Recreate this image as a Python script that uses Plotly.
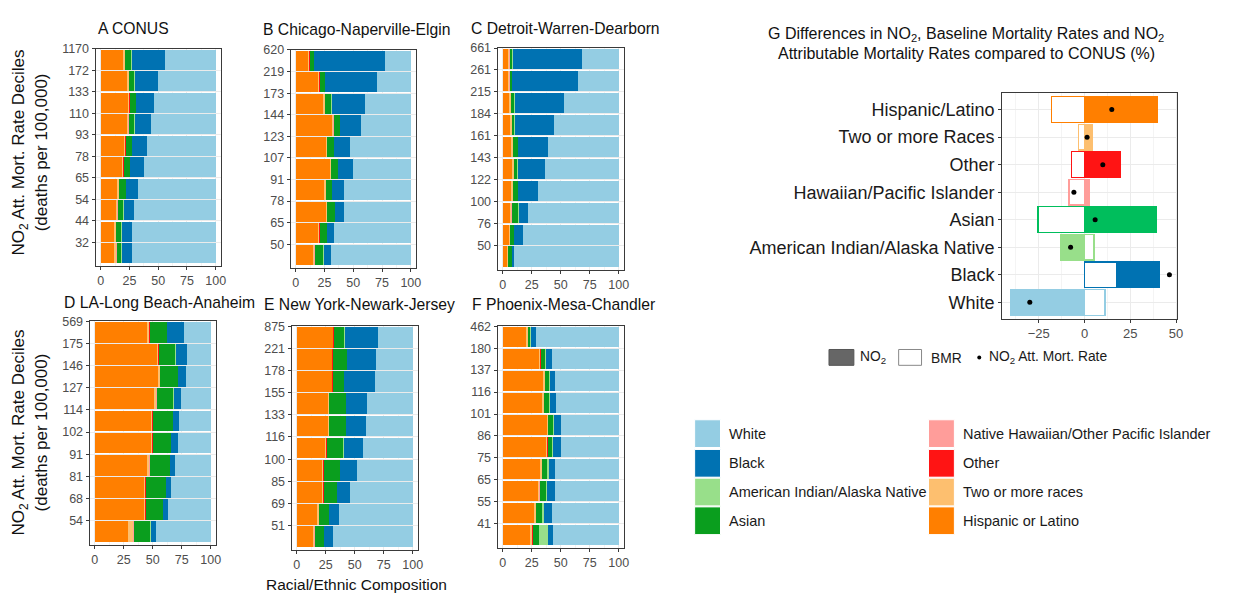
import plotly.graph_objects as go

W, H = 1246, 593

# ---------------- data (decile 1 -> decile 10) ----------------
group_names = ["Hispanic or Latino", "Two or more races", "Other",
               "Native Hawaiian/Other Pacific Islander", "Asian",
               "American Indian/Alaska Native", "Black", "White"]
group_colors = ["#FF7F00", "#FDBF6F", "#FF1414", "#FF9D9A", "#0A9E1E",
                "#98DF8A", "#0072B2", "#94CDE3"]

# A CONUS
A_ticks = ["32", "44", "54", "65", "78", "93", "110", "133", "172", "1170"]
A_hisp = [12, 12, 13, 14.5, 18.5, 20, 22.5, 23.5, 23, 19.5]
A_two = [1.5, 1.3, 1.3, 1.3, 1.3, 1.3, 1.3, 1.3, 1.3, 1.5]
A_other = [0.2, 0.2, 0.3, 0.3, 0.3, 0.3, 0.3, 0.3, 0.3, 0.3]
A_nhpi = [0.2, 0.2, 0.2, 0.2, 0.2, 0.2, 0.2, 0.2, 0.2, 0.2]
A_asian = [3.5, 4.3, 5, 5.5, 5, 5.5, 5, 5, 4.5, 5]
A_aian = [1.0, 0.5, 0.4, 0.4, 0.3, 0.3, 0.3, 0.4, 0.3, 0.3]
A_black = [8.5, 8.5, 8.8, 10, 11.7, 13, 14.5, 15.5, 20.5, 29]
A_white = [73.1, 73.0, 71.0, 67.8, 62.7, 59.4, 55.9, 53.8, 49.9, 44.2]

# B Chicago
B_ticks = ["50", "65", "78", "91", "107", "123", "144", "173", "219", "620"]
B_hisp = [15, 19.5, 26, 25, 29.5, 26, 31.5, 24, 19.5, 11]
B_two = [1, 1.2, 1, 1, 1, 1, 1, 1.2, 1, 1]
B_other = [0.2, 0.2, 0.2, 0.2, 0.2, 0.2, 0.2, 0.3, 0.3, 0.3]
B_nhpi = [0.1, 0.1, 0.1, 0.1, 0.1, 0.1, 0.1, 0.1, 0.1, 0.1]
B_asian = [7.7, 6.3, 7, 5.3, 5.7, 6, 5.8, 5.5, 4.5, 3.5]
B_aian = [0.3, 0.2, 0.2, 0.2, 0.2, 0.2, 0.2, 0.2, 0.2, 0.2]
B_black = [6.4, 5.8, 7.5, 10, 13, 13.7, 17.7, 28.5, 44.6, 61.5]
B_white = [69.3, 66.7, 58.0, 58.2, 50.3, 52.8, 43.5, 40.2, 29.8, 22.4]

# C Detroit
C_ticks = ["50", "76", "100", "122", "143", "161", "184", "215", "261", "661"]
C_hisp = [3.6, 5, 6, 7.3, 8, 7.5, 6.3, 5.4, 4.3, 4.3]
C_two = [1, 1, 1.2, 1.2, 1.3, 1.3, 1.3, 1.4, 1.2, 1.2]
C_other = [0.2, 0.2, 0.2, 0.2, 0.2, 0.2, 0.2, 0.2, 0.2, 0.2]
C_nhpi = [0.1, 0.1, 0.1, 0.1, 0.1, 0.1, 0.1, 0.1, 0.1, 0.1]
C_asian = [3.2, 3.4, 6, 4.5, 3, 4, 2, 2.8, 2, 2.4]
C_aian = [0.2, 0.2, 0.2, 0.2, 0.2, 0.2, 0.2, 0.2, 0.2, 0.2]
C_black = [1.2, 7.3, 7.8, 16.5, 24, 25.3, 34.3, 42.4, 56.7, 60]
C_white = [90.5, 82.8, 78.5, 70.0, 63.2, 61.4, 55.6, 47.5, 35.3, 31.6]

# D LA
D_ticks = ["54", "68", "81", "91", "102", "114", "127", "146", "175", "569"]
D_hisp = [29, 42.4, 42.4, 45.5, 48.8, 48.8, 51.5, 55, 54, 45.5]
D_two = [4, 1.3, 1.3, 1.3, 1, 1, 1, 1, 1, 1.5]
D_other = [0.2, 0.2, 0.3, 0.2, 0.2, 0.3, 0.5, 0.2, 0.3, 0.3]
D_nhpi = [0.3, 0.3, 0.3, 0.3, 0.3, 0.3, 0.3, 0.3, 0.3, 0.3]
D_asian = [14.5, 14.4, 16.8, 17.4, 15.3, 16.8, 14.4, 15, 14, 14.5]
D_aian = [0.2, 0.2, 0.2, 0.2, 0.2, 0.2, 0.2, 0.2, 0.2, 0.2]
D_black = [4.6, 4.1, 4.6, 4.4, 5.8, 4.9, 6.4, 7, 10, 15]
D_white = [47.2, 37.1, 34.1, 30.7, 28.4, 27.7, 25.7, 21.3, 20.2, 22.7]

# E New York
E_ticks = ["51", "69", "85", "100", "116", "133", "155", "178", "221", "875"]
E_hisp = [13.7, 17.8, 22.2, 22.2, 24.8, 27, 27, 30, 30, 30.9]
E_two = [1.2, 1, 0.5, 0.5, 0.5, 0.6, 0.6, 0.6, 0.6, 0.8]
E_other = [0.3, 0.3, 0.8, 0.8, 0.8, 0.4, 0.3, 0.8, 0.8, 0.3]
E_nhpi = [0.1, 0.1, 0.1, 0.1, 0.1, 0.1, 0.1, 0.1, 0.1, 0.1]
E_asian = [8.1, 8.3, 11.2, 13.8, 14.1, 14.3, 14.4, 9.1, 12, 9]
E_aian = [0.2, 0.2, 0.2, 0.2, 0.2, 0.2, 0.2, 0.2, 0.2, 0.2]
E_black = [7.3, 8.8, 11.1, 14.6, 16.4, 17.2, 17.7, 26.3, 24.5, 28.6]
E_white = [69.1, 63.5, 53.9, 47.8, 43.1, 40.2, 39.7, 32.9, 31.8, 30.1]

# F Phoenix
F_ticks = ["41", "55", "65", "75", "86", "101", "116", "137", "180", "462"]
F_hisp = [23.8, 27.3, 30.2, 32.5, 37.2, 37.8, 34, 34.8, 31, 20.3]
F_two = [1.8, 1, 1.3, 1.4, 1.3, 1.3, 1.5, 1.3, 1.5, 1.2]
F_other = [0.2, 0.2, 0.2, 0.2, 0.2, 0.2, 0.2, 0.2, 0.2, 0.2]
F_nhpi = [0.1, 0.1, 0.1, 0.1, 0.1, 0.1, 0.1, 0.1, 0.1, 0.1]
F_asian = [4.9, 5.7, 5.1, 4.4, 3.7, 3.6, 3.9, 3.7, 3.6, 1.8]
F_aian = [8.5, 1.5, 0.9, 1.2, 0.8, 0.9, 1.1, 1, 0.9, 0.3]
F_black = [4.3, 6.4, 7.3, 5.3, 7, 6.7, 5.5, 4.3, 5.5, 4.4]
F_white = [56.4, 57.8, 54.9, 54.9, 49.7, 49.4, 53.7, 54.6, 57.2, 71.7]

decile_pos = [1, 2, 3, 4, 5, 6, 7, 8, 9, 10]

# G differences (bottom -> top)
G_labels = ["White", "Black", "American Indian/Alaska Native", "Asian",
            "Hawaiian/Pacific Islander", "Other", "Two or more Races", "Hispanic/Latino"]
G_colors = ["#94CDE3", "#0072B2", "#98DF8A", "#00BE5C",
            "#FF9D9A", "#FF1414", "#FDBF6F", "#FF7F00"]
G_no2 = [-40.6, 41.1, -13.2, 39.3, 2.7, 19.6, 4.5, 39.9]
G_bmr = [11.2, 17.8, 5.1, -25.4, -8.5, -7.2, -3.3, -18.1]
G_att = [-29.9, 46.4, -7.6, 5.8, -5.8, 10.0, 1.4, 14.9]

# ---------------- layout helpers ----------------
def xd(px):
    return px / W

def yd(py):
    return 1 - py / H

panels = [
    ("", "A CONUS", 96, 23, (96, 222, 43, 263), A_ticks,
     [A_hisp, A_two, A_other, A_nhpi, A_asian, A_aian, A_black, A_white]),
    ("2", "B Chicago-Naperville-Elgin", 262, 24, (292, 418, 44, 265), B_ticks,
     [B_hisp, B_two, B_other, B_nhpi, B_asian, B_aian, B_black, B_white]),
    ("3", "C Detroit-Warren-Dearborn", 471, 23, (500, 627, 42, 267), C_ticks,
     [C_hisp, C_two, C_other, C_nhpi, C_asian, C_aian, C_black, C_white]),
    ("4", "D LA-Long Beach-Anaheim", 62, 300, (90, 217, 318, 545), D_ticks,
     [D_hisp, D_two, D_other, D_nhpi, D_asian, D_aian, D_black, D_white]),
    ("5", "E New York-Newark-Jersey", 263, 302, (293, 420, 323, 550), E_ticks,
     [E_hisp, E_two, E_other, E_nhpi, E_asian, E_aian, E_black, E_white]),
    ("6", "F Phoenix-Mesa-Chandler", 472, 302, (500, 627, 323, 548), F_ticks,
     [F_hisp, F_two, F_other, F_nhpi, F_asian, F_aian, F_black, F_white]),
]

fig = go.Figure()
layout = dict(
    width=W, height=H, margin=dict(l=0, r=0, t=0, b=0),
    paper_bgcolor="white", plot_bgcolor="white",
    barmode="stack", showlegend=False,
    font=dict(family="Liberation Sans, Arial, sans-serif", color="#1a1a1a"),
)
annotations = []
shapes = []
GRID = "#EBEBEB"
FRAME = "#3a3a3a"

for suffix, title, tx, ty, box, ticks, series in panels:
    x0, x1, y0, y1 = box
    xa = "x" + suffix
    ya = "y" + suffix
    for name, col, vals in zip(group_names, group_colors, series):
        fig.add_trace(go.Bar(
            x=vals, y=decile_pos, orientation="h",
            xaxis=xa, yaxis=ya, name=name,
            marker=dict(color=col, line=dict(width=0)),
            width=0.93, offset=-0.965,
            hoverinfo="name+x",
        ))
    layout["xaxis" + suffix] = dict(
        domain=[xd(x0), xd(x1)], anchor=ya, range=[-4.5, 104.5],
        tickvals=[0, 25, 50, 75, 100], showgrid=True, gridcolor=GRID, gridwidth=1,
        minor=dict(tickvals=[12.5, 37.5, 62.5, 87.5], showgrid=True, gridcolor="#F4F4F4", ticks=""),
        showline=True, mirror=True, linecolor=FRAME, linewidth=1,
        ticks="outside", ticklen=3, tickcolor=FRAME, zeroline=False,
        tickfont=dict(size=12.5, color="#4D4D4D"), fixedrange=True,
    )
    layout["yaxis" + suffix] = dict(
        domain=[yd(y1), yd(y0)], anchor=xa, range=[-0.12, 10.02],
        tickvals=decile_pos, ticktext=ticks, showgrid=True, gridcolor=GRID,
        showline=True, mirror=True, linecolor=FRAME, linewidth=1,
        ticks="outside", ticklen=3, tickcolor=FRAME, zeroline=False,
        tickfont=dict(size=12.5, color="#4D4D4D"), fixedrange=True,
    )
    annotations.append(dict(
        text=title, x=xd(tx), y=yd(ty), xref="paper", yref="paper",
        xanchor="left", yanchor="middle", showarrow=False,
        font=dict(size=15.7, color="#111111"),
    ))

# ---------------- panel G ----------------
fig.add_trace(go.Bar(
    x=G_no2, y=G_labels, orientation="h", base=0, width=0.94,
    xaxis="x7", yaxis="y7", name="NO2",
    marker=dict(color=G_colors, line=dict(color=G_colors, width=1.2)),
))
fig.add_trace(go.Bar(
    x=G_bmr, y=G_labels, orientation="h", base=0, width=0.94,
    xaxis="x7", yaxis="y7", name="BMR",
    marker=dict(color="white", line=dict(color=G_colors, width=1.4)),
))
fig.add_trace(go.Scatter(
    x=G_att, y=G_labels, mode="markers", xaxis="x7", yaxis="y7",
    name="NO2 Att. Mort. Rate",
    marker=dict(color="black", size=5),
))
layout["xaxis7"] = dict(
    domain=[xd(1007), xd(1183)], anchor="y7", range=[-45, 50.7],
    tickvals=[-25, 0, 25, 50], showgrid=True, gridcolor=GRID,
    minor=dict(tickvals=[-37.5, -12.5, 12.5, 37.5], showgrid=True, gridcolor="#F4F4F4", ticks=""),
    showline=True, mirror=True, linecolor=FRAME, linewidth=1,
    ticks="outside", ticklen=3, tickcolor=FRAME, zeroline=False,
    tickfont=dict(size=13, color="#4D4D4D"), fixedrange=True,
)
layout["yaxis7"] = dict(
    domain=[yd(316), yd(88)], anchor="x7", type="category",
    categoryorder="array", categoryarray=G_labels, range=[-0.6, 7.6],
    showgrid=True, gridcolor=GRID,
    showline=True, mirror=True, linecolor=FRAME, linewidth=1,
    ticks="outside", ticklen=3, tickcolor=FRAME, zeroline=False,
    tickfont=dict(size=18, color="#1a1a1a"), fixedrange=True,
)

# G title
annotations.append(dict(
    text="G Differences in NO<sub>2</sub>, Baseline Mortality Rates and NO<sub>2</sub>",
    x=xd(971), y=yd(29), xref="paper", yref="paper", xanchor="center", yanchor="middle",
    showarrow=False, font=dict(size=16, color="#111111")))
annotations.append(dict(
    text="Attributable Mortality Rates compared to CONUS (%)",
    x=xd(971), y=yd(48), xref="paper", yref="paper", xanchor="center", yanchor="middle",
    showarrow=False, font=dict(size=16, color="#111111")))

# y axis titles
for cy in (148, 431):
    annotations.append(dict(
        text="NO<sub>2</sub> Att. Mort. Rate Deciles", x=xd(20), y=yd(cy),
        xref="paper", yref="paper", xanchor="center", yanchor="middle",
        textangle=-90, showarrow=False, font=dict(size=17, color="#111111")))
    annotations.append(dict(
        text="(deaths per 100,000)", x=xd(42), y=yd(cy),
        xref="paper", yref="paper", xanchor="center", yanchor="middle",
        textangle=-90, showarrow=False, font=dict(size=17, color="#111111")))

# x axis title
annotations.append(dict(
    text="Racial/Ethnic Composition", x=xd(358), y=yd(584), xref="paper", yref="paper",
    xanchor="center", yanchor="middle", showarrow=False,
    font=dict(size=15.5, color="#111111")))

# G legend
shapes.append(dict(type="rect", xref="paper", yref="paper",
                   x0=xd(833), x1=xd(858), y0=yd(363), y1=yd(347),
                   fillcolor="#666666", line=dict(color="#555555", width=1)))
annotations.append(dict(text="NO<sub>2</sub>", x=xd(862), y=yd(355), xref="paper", yref="paper",
                        xanchor="left", yanchor="middle", showarrow=False,
                        font=dict(size=13.8, color="#1a1a1a")))
shapes.append(dict(type="rect", xref="paper", yref="paper",
                   x0=xd(903), x1=xd(926), y0=yd(363), y1=yd(347),
                   fillcolor="white", line=dict(color="#888888", width=1)))
annotations.append(dict(text="BMR", x=xd(933), y=yd(356), xref="paper", yref="paper",
                        xanchor="left", yanchor="middle", showarrow=False,
                        font=dict(size=13.8, color="#1a1a1a")))
shapes.append(dict(type="circle", xref="paper", yref="paper",
                   x0=xd(982), x1=xd(986), y0=yd(357), y1=yd(353),
                   fillcolor="black", line=dict(color="black", width=0)))
annotations.append(dict(text="NO<sub>2</sub> Att. Mort. Rate", x=xd(992), y=yd(355),
                        xref="paper", yref="paper", xanchor="left", yanchor="middle",
                        showarrow=False, font=dict(size=13.8, color="#1a1a1a")))

# colour legend (two columns)
leg_left = ["White", "Black", "American Indian/Alaska Native", "Asian"]
leg_left_col = ["#94CDE3", "#0072B2", "#98DF8A", "#0A9E1E"]
leg_right = ["Native Hawaiian/Other Pacific Islander", "Other", "Two or more races", "Hispanic or Latino"]
leg_right_col = ["#FF9D9A", "#FF1414", "#FDBF6F", "#FF7F00"]
row_cy = [432, 462, 491, 520]
for col_x, txt_x, labels, cols in ((698, 731, leg_left, leg_left_col),
                                   (933, 966, leg_right, leg_right_col)):
    for cy, lab, c in zip(row_cy, labels, cols):
        shapes.append(dict(type="rect", xref="paper", yref="paper",
                           x0=xd(col_x), x1=xd(col_x + 26), y0=yd(cy + 14), y1=yd(cy - 14),
                           fillcolor=c, line=dict(color="white", width=1)))
        annotations.append(dict(text=lab, x=xd(txt_x), y=yd(cy), xref="paper", yref="paper",
                                xanchor="left", yanchor="middle", showarrow=False,
                                font=dict(size=14.5, color="#1a1a1a")))

layout["annotations"] = annotations
layout["shapes"] = shapes
fig.update_layout(**layout)
fig.write_html(
    "out.html",
    config={"displayModeBar": False},
    post_script="document.body.style.margin='0';document.body.style.overflow='hidden';",
)
